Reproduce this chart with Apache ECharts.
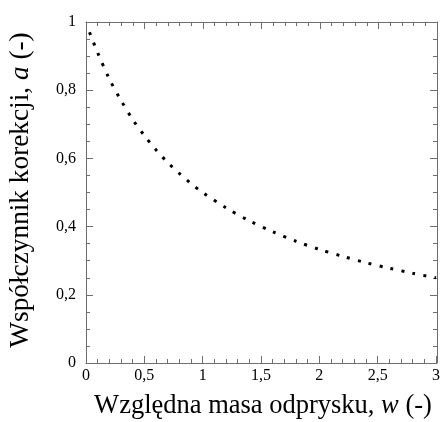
<!DOCTYPE html>
<html>
<head>
<meta charset="utf-8">
<script src="https://cdn.jsdelivr.net/npm/echarts@6/dist/echarts.min.js"></script>
<style>
  html, body { margin: 0; padding: 0; background: #fff; }
  #chart { width: 443px; height: 422px; }
</style>
</head>
<body>
<div id="chart"></div>
<script>
// Relative fragment mass w and the correction coefficient a
var massW = [0.03, 0.1, 0.2, 0.3, 0.4, 0.5, 0.6, 0.7, 0.8, 0.9, 1.0, 1.2, 1.4, 1.6, 1.8, 2.0, 2.2, 2.4, 2.6, 2.8, 3.0];
var coefA = [0.97, 0.91, 0.833, 0.77, 0.714, 0.667, 0.625, 0.588, 0.556, 0.526, 0.5, 0.455, 0.417, 0.385, 0.357, 0.333, 0.313, 0.294, 0.278, 0.263, 0.25];
var xTicks = ['0', '0,5', '1', '1,5', '2', '2,5', '3'];
var yTicks = ['0', '0,2', '0,4', '0,6', '0,8', '1'];
var xTitle = '{t|Względna masa odprysku, }{i|w}{t| (-)}';
var yTitle = '{t|Współczynnik korekcji, }{i|a}{t| (-)}';

var serif = '"Liberation Serif", "Times New Roman", serif';
var frameColor = '#6e6e6e';
var plotBox = { left: 86, right: 6, top: 22, bottom: 59, containLabel: false };

function axisBase(extra) {
  return Object.assign({
    type: 'value',
    axisLine: { show: true, onZero: false, lineStyle: { color: frameColor, width: 1 } },
    axisTick: { show: true, inside: true, length: 7, lineStyle: { color: frameColor } },
    splitLine: { show: false },
    minorSplitLine: { show: false }
  }, extra);
}

function titleRich(size) {
  return {
    t: { fontFamily: serif, fontSize: size, fill: '#000', color: '#000' },
    i: { fontFamily: serif, fontSize: size, fontStyle: 'italic', fill: '#000', color: '#000' }
  };
}

var option = {
  animation: false,
  backgroundColor: '#fff',
  // grid 0 carries the data and the labelled axes, grid 1 the mirrored frame
  grid: [Object.assign({}, plotBox), Object.assign({}, plotBox)],
  graphic: [
    {
      type: 'text', x: 263, y: 406, silent: true,
      style: { text: xTitle, rich: titleRich(26.5), align: 'center', verticalAlign: 'middle' }
    },
    {
      type: 'text', x: 21, y: 190, rotation: Math.PI / 2, silent: true,
      style: { text: yTitle, rich: titleRich(27.3), align: 'center', verticalAlign: 'middle' }
    }
  ],
  xAxis: [
    axisBase({
      gridIndex: 0, min: 0, max: 3, interval: 0.5, position: 'bottom',
      minorTick: { show: true, splitNumber: 5, length: 4, lineStyle: { color: frameColor } },
      axisLabel: {
        color: '#000', fontFamily: serif, fontSize: 16, margin: 5,
        formatter: function (v) { return xTicks[Math.round(v / 0.5)]; }
      }
    }),
    axisBase({
      gridIndex: 1, min: 0, max: 3, interval: 0.5, position: 'top',
      minorTick: { show: true, splitNumber: 5, length: 4, lineStyle: { color: frameColor } },
      axisLabel: { show: false }
    })
  ],
  yAxis: [
    axisBase({
      gridIndex: 0, min: 0, max: 1, interval: 0.2, position: 'left',
      minorTick: { show: true, splitNumber: 4, length: 4, lineStyle: { color: frameColor } },
      axisLabel: {
        color: '#000', fontFamily: serif, fontSize: 16, margin: 10,
        formatter: function (v) { return yTicks[Math.round(v / 0.2)]; }
      }
    }),
    axisBase({
      gridIndex: 1, min: 0, max: 1, interval: 0.2, position: 'right',
      minorTick: { show: true, splitNumber: 4, length: 4, lineStyle: { color: frameColor } },
      axisLabel: { show: false }
    })
  ],
  series: [{
    type: 'line',
    xAxisIndex: 0, yAxisIndex: 0,
    data: massW.map(function (w, i) { return [w, coefA[i]]; }),
    showSymbol: false,
    smooth: 0.3,
    lineStyle: { color: '#000', width: 3, type: [3, 8.2], cap: 'butt' }
  }]
};

echarts.init(document.getElementById('chart')).setOption(option);
</script>
</body>
</html>
